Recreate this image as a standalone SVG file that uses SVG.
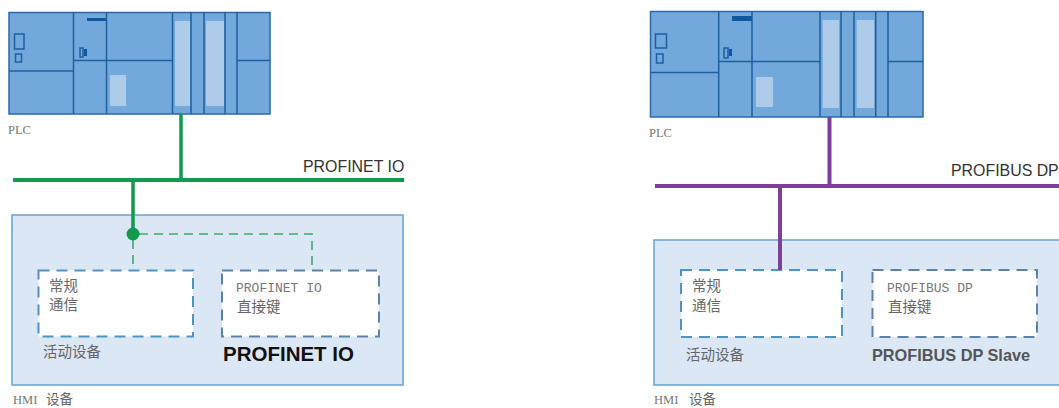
<svg xmlns="http://www.w3.org/2000/svg" width="1059" height="408" viewBox="0 0 1059 408">
  <style>
    text { font-family: "Liberation Sans", "Noto Sans CJK SC", sans-serif; }
    .plc-body { fill: #72a8dc; stroke: #2a6aa8; stroke-width: 1.5; }
    .plc-line { stroke: #1f5f9e; stroke-width: 1.5; fill: none; }
    .plc-panel { fill: #aecbea; }
    .plc-bar { fill: #0f57a3; }
    .plc-icon { fill: none; stroke: #1f5f9e; stroke-width: 1.5; }
    .hmi { fill: #dce7f5; stroke: #64a2d3; stroke-width: 1.5; }
    .slot { fill: #fff; stroke-width: 2; stroke-dasharray: 11 7; }
    .slot-a { stroke: #4d94c4; }
    .slot-b { stroke: #5b83aa; }
    .note { font-family: "Liberation Serif", "Noto Sans CJK SC", serif; font-size: 12.500px; fill: #777; }
    .cjk { font-family: "Noto Sans CJK SC", sans-serif; font-size: 14.500px; fill: #666; }
    .cjk-small { font-size: 13.500px; }
    .mono { font-family: "Liberation Mono", "Noto Sans CJK SC", monospace; font-size: 13px; fill: #777; }
    .bus-label { font-size: 15.900px; fill: #333; }
    .green { stroke: #0f9a4c; fill: none; }
    .violet { stroke: #7d3f98; fill: none; }
    .dash { stroke: #3fa771; stroke-width: 1.6; stroke-dasharray: 9 6; fill: none; }
  </style>

  <g id="plc-left">
    <rect class="plc-body" x="9" y="12.500" width="261" height="101.500"/>
    <path class="plc-line" d="M73.500 12.500V114M106.500 12.500V114M172.500 12.500V114M191 12.500V114M204 12.500V114M225 12.500V114M237 12.500V114M9 71H73.500M73.500 60.500H172.500M237 60.500H270"/>
    <rect class="plc-panel" x="175" y="21" width="15" height="85"/>
    <rect class="plc-panel" x="206" y="21" width="18" height="85"/>
    <rect class="plc-panel" x="110" y="75" width="16" height="31"/>
    <rect class="plc-bar" x="87" y="18" width="19" height="3"/>
    <rect class="plc-icon" x="14.500" y="34" width="9.500" height="15"/>
    <rect class="plc-icon" x="15.500" y="54" width="6" height="8"/>
    <rect class="plc-icon" x="80" y="48" width="3" height="9"/>
    <rect class="plc-bar" x="84" y="49" width="3" height="7"/>
    <text class="note" x="8" y="134">PLC</text>
  </g>

  <g id="hmi-left">
    <rect class="hmi" x="12" y="215" width="391" height="170"/>
    <text class="note" x="13" y="404">HMI</text>
    <text class="cjk cjk-small" x="46" y="404">设备</text>
  </g>
  <g id="slot-left-general">
    <rect class="slot slot-a" x="38.500" y="270.500" width="154.500" height="66"/>
    <text class="cjk" x="49" y="291">常规</text>
    <text class="cjk" x="49" y="310">通信</text>
    <text class="cjk" x="43" y="357">活动设备</text>
  </g>
  <g id="slot-left-io">
    <rect class="slot slot-b" x="222" y="270.500" width="157" height="66"/>
    <text class="mono" x="236" y="292">PROFINET IO</text>
    <text class="cjk" x="237" y="312">直接键</text>
    <text x="223" y="361" font-size="20.500" font-weight="700" fill="#111">PROFINET IO</text>
  </g>

  <g id="plc-right">
    <rect class="plc-body" x="650.500" y="11.500" width="272.500" height="105.500"/>
    <path class="plc-line" d="M718.700 11.500V117M752 11.500V117M820 11.500V117M841 11.500V117M854 11.500V117M875.700 11.500V117M888 11.500V117M650.500 72.500H718.700M718.700 61.500H820M888 61.500H923"/>
    <rect class="plc-panel" x="822.700" y="20" width="16.300" height="88"/>
    <rect class="plc-panel" x="856.700" y="20" width="17.300" height="88"/>
    <rect class="plc-panel" x="756" y="77" width="17" height="30"/>
    <rect class="plc-bar" x="732" y="16" width="20" height="5"/>
    <rect class="plc-icon" x="655.500" y="34" width="11" height="14"/>
    <rect class="plc-icon" x="656.500" y="54" width="6.500" height="9"/>
    <rect class="plc-icon" x="724" y="48" width="4" height="10"/>
    <rect class="plc-bar" x="729" y="49" width="3" height="7"/>
    <text class="note" x="649" y="137">PLC</text>
  </g>

  <g id="hmi-right">
    <rect class="hmi" x="654" y="240" width="420" height="145"/>
    <text class="note" x="654" y="404">HMI</text>
    <text class="cjk cjk-small" x="689" y="404">设备</text>
  </g>
  <g id="slot-right-general">
    <rect class="slot slot-a" x="681" y="270" width="161" height="67"/>
    <text class="cjk" x="692" y="291">常规</text>
    <text class="cjk" x="692" y="311">通信</text>
    <text class="cjk" x="686" y="360">活动设备</text>
  </g>
  <g id="slot-right-dp">
    <rect class="slot slot-b" x="872.500" y="270" width="164.500" height="67"/>
    <text class="mono" x="887" y="292">PROFIBUS DP</text>
    <text class="cjk" x="888" y="312">直接键</text>
    <text x="872" y="361" font-size="16.300" font-weight="700" fill="#555">PROFIBUS DP Slave</text>
  </g>

  <g id="connectors">
    <path class="green" stroke-width="3.500" d="M181 114V180"/>
    <path class="green" stroke-width="4" d="M13 180H404"/>
    <path class="green" stroke-width="3.500" d="M133 180V234"/>
    <path class="dash" d="M139 234H312V270"/>
    <path class="dash" d="M133 240V270"/>
    <circle cx="133" cy="234" r="6.500" fill="#0f9a4c"/>
    <path class="violet" stroke-width="4" d="M829.500 117V186"/>
    <path class="violet" stroke-width="4" d="M655 186H1059"/>
    <path class="violet" stroke-width="4" d="M780 186V270"/>
  </g>

  <text class="bus-label" x="303" y="172">PROFINET IO</text>
  <text class="bus-label" x="951" y="176">PROFIBUS DP</text>
</svg>
